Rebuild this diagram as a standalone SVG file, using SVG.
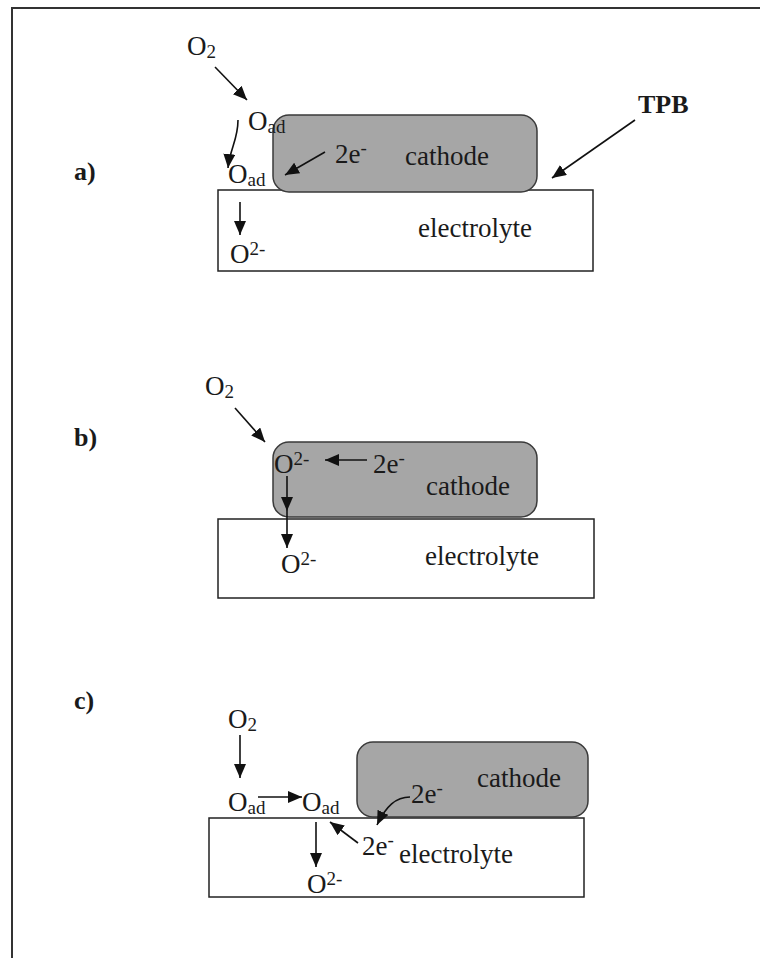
<svg xmlns="http://www.w3.org/2000/svg" width="760" height="958" viewBox="0 0 760 958">
<defs>
<marker id="ah" markerUnits="userSpaceOnUse" markerWidth="16" markerHeight="14" refX="14" refY="6" orient="auto">
<path d="M0,0 L14,6 L0,12 z" fill="#111"/>
</marker>
<style>
text{font-family:"Liberation Serif","Times New Roman",serif;fill:#1a1a1a;font-size:27px}
.s{font-size:19px}
.lbl{font-weight:bold;font-size:26px}
.cat{fill:#a6a6a6;stroke:#3a3a3a;stroke-width:1.5}
.ele{fill:#fff;stroke:#222;stroke-width:1.5}
.c{fill:none;stroke:#111;stroke-width:1.6;marker-end:url(#ah)}
</style>
</defs>
<rect width="760" height="958" fill="#fff"/>
<path d="M12,958 V8 H760" fill="none" stroke="#333" stroke-width="2"/>

<g id="panel-a">
<text class="lbl" x="74" y="180">a)</text>
<g id="a-electrolyte"><rect class="ele" x="218" y="190" width="375" height="81"/><text x="418" y="237">electrolyte</text></g>
<g id="a-cathode"><rect class="cat" x="273" y="115" width="264" height="77" rx="16"/><text x="405" y="165">cathode</text></g>
<g id="a-o2"><text x="187" y="55">O<tspan class="s" dy="3">2</tspan></text></g>
<g id="a-oad1"><text x="248" y="130">O<tspan class="s" dy="3">ad</tspan></text></g>
<g id="a-oad2"><text x="228" y="183">O<tspan class="s" dy="3">ad</tspan></text></g>
<g id="a-2e"><text x="335" y="163">2e<tspan class="s" dy="-9">-</tspan></text></g>
<g id="a-o2m"><text x="230" y="263">O<tspan class="s" dy="-8">2-</tspan></text></g>
<g id="a-tpb"><text class="lbl" x="638" y="113">TPB</text></g>
</g>

<g id="panel-b">
<text class="lbl" x="74" y="446">b)</text>
<g id="b-electrolyte"><rect class="ele" x="218" y="519" width="376" height="79"/><text x="425" y="565">electrolyte</text></g>
<g id="b-cathode"><rect class="cat" x="273" y="442" width="264" height="75" rx="16"/><text x="426" y="495">cathode</text></g>
<g id="b-o2"><text x="205" y="395">O<tspan class="s" dy="3">2</tspan></text></g>
<g id="b-o2m1"><text x="274" y="473">O<tspan class="s" dy="-8">2-</tspan></text></g>
<g id="b-2e"><text x="373" y="473">2e<tspan class="s" dy="-9">-</tspan></text></g>
<g id="b-o2m2"><text x="281" y="573">O<tspan class="s" dy="-8">2-</tspan></text></g>
</g>

<g id="panel-c">
<text class="lbl" x="74" y="709">c)</text>
<g id="c-electrolyte"><rect class="ele" x="209" y="818" width="375" height="79"/><text x="399" y="863">electrolyte</text></g>
<g id="c-cathode"><rect class="cat" x="357" y="742" width="231" height="75" rx="16"/><text x="477" y="787">cathode</text></g>
<g id="c-o2"><text x="228" y="728">O<tspan class="s" dy="3">2</tspan></text></g>
<g id="c-oad1"><text x="228" y="811">O<tspan class="s" dy="3">ad</tspan></text></g>
<g id="c-oad2"><text x="302" y="811">O<tspan class="s" dy="3">ad</tspan></text></g>
<g id="c-2e1"><text x="411" y="803">2e<tspan class="s" dy="-9">-</tspan></text></g>
<g id="c-2e2"><text x="362" y="855">2e<tspan class="s" dy="-9">-</tspan></text></g>
<g id="c-o2m"><text x="307" y="893">O<tspan class="s" dy="-8">2-</tspan></text></g>
</g>

<g id="connectors">
<path class="c" d="M215,67 L247,100"/>
<path class="c" d="M238,120 C238,140 230,148 228,168"/>
<path class="c" d="M325,152 L285,175"/>
<path class="c" d="M240,202 L240,235"/>
<path class="c" d="M635,120 L552,178"/>

<path class="c" d="M235,408 L265,442"/>
<path class="c" d="M367,460 L325,460"/>
<path class="c" d="M287,476 L287,511"/>
<path class="c" d="M287,511 L287,548"/>

<path class="c" d="M240,735 L240,778"/>
<path class="c" d="M258,797 L302,797"/>
<path class="c" d="M410,797 C396,797 386,806 377,825"/>
<path class="c" d="M316,822 L316,867"/>
<path class="c" d="M358,843 L330,822"/>
</g>
</svg>
